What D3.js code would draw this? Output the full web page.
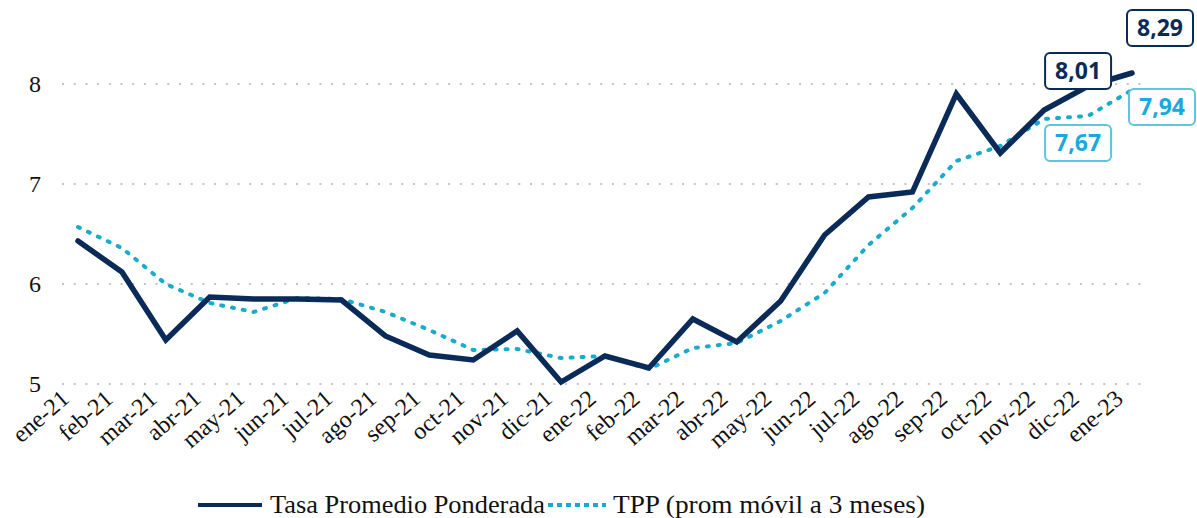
<!DOCTYPE html>
<html>
<head>
<meta charset="utf-8">
<script src="https://cdn.jsdelivr.net/npm/d3@7"></script>
<style>
  body { margin: 0; background: #fff; }
  svg { display: block; }
  .serif { font-family: "Liberation Serif", "Times New Roman", "DejaVu Serif", serif; }
</style>
</head>
<body>
<div id="chart"></div>
<script>
// months on the x axis
const months = ["ene-21", "feb-21", "mar-21", "abr-21", "may-21", "jun-21", "jul-21", "ago-21",
  "sep-21", "oct-21", "nov-21", "dic-21", "ene-22", "feb-22", "mar-22", "abr-22", "may-22",
  "jun-22", "jul-22", "ago-22", "sep-22", "oct-22", "nov-22", "dic-22", "ene-23"];

// Tasa Promedio Ponderada
const tpp = [6.43, 6.12, 5.44, 5.87, 5.85, 5.85, 5.84, 5.48, 5.29, 5.24, 5.53, 5.02, 5.28,
  5.16, 5.65, 5.42, 5.83, 6.49, 6.87, 6.92, 7.90, 7.31, 7.74, 7.98, 8.11];

// TPP (prom movil a 3 meses)
const tppMovil = [6.57, 6.36, 6.00, 5.81, 5.72, 5.86, 5.85, 5.72, 5.54, 5.34, 5.35, 5.26, 5.28,
  5.15, 5.36, 5.41, 5.63, 5.91, 6.39, 6.76, 7.23, 7.38, 7.65, 7.68, 7.94];

const yTicks = [5, 6, 7, 8];

// callout labels: month, text, series
const callouts = [
  {month: "dic-22", text: "8,01", serie: "tpp"},
  {month: "ene-23", text: "8,29", serie: "tpp"},
  {month: "dic-22", text: "7,67", serie: "movil"},
  {month: "ene-23", text: "7,94", serie: "movil"}
];

const W = 1197, H = 518;
const navy = "#0a2b58", cyan = "#19abcc";

const svg = d3.select("#chart").append("svg")
  .attr("width", W)
  .attr("height", H);

const x = d3.scalePoint()
  .domain(months)
  .range([78, 1132]);

const y = d3.scaleLinear()
  .domain([5, 8])
  .range([384, 84]);

// grid lines (dotted)
svg.append("g")
  .selectAll("line")
  .data(yTicks)
  .enter()
  .append("line")
  .attr("x1", 62)
  .attr("x2", 1142)
  .attr("y1", d => y(d))
  .attr("y2", d => y(d))
  .attr("stroke", "#c4c4c4")
  .attr("stroke-width", 2)
  .attr("stroke-dasharray", "2 9.7");

// y axis labels
let yAxis = svg.append("g")
  .attr("transform", "translate(41,0)")
  .call(d3.axisLeft(y).tickValues(yTicks).tickSize(0).tickPadding(0).tickFormat(d3.format("d")));
yAxis.select(".domain").remove();
yAxis.attr("font-family", null);
yAxis.selectAll("text")
  .attr("class", "serif")
  .attr("font-size", 24)
  .attr("fill", "#111");

// x axis labels
let xAxis = svg.append("g")
  .attr("transform", "translate(0,384)")
  .call(d3.axisBottom(x).tickSize(0).tickPadding(0));
xAxis.select(".domain").remove();
xAxis.attr("font-family", null);
xAxis.selectAll("text")
  .attr("class", "serif")
  .attr("font-size", 24)
  .attr("fill", "#111")
  .attr("text-anchor", "end")
  .attr("dy", "0")
  .attr("y", 0)
  .attr("transform", "translate(-8,17) rotate(-41)");

// lines
const line = d3.line()
  .x((d, i) => x(months[i]))
  .y(d => y(d));

svg.append("path")
  .datum(tppMovil)
  .attr("d", line)
  .attr("fill", "none")
  .attr("stroke", cyan)
  .attr("stroke-width", 4)
  .attr("stroke-linecap", "round")
  .attr("stroke-dasharray", "2 9");

svg.append("path")
  .datum(tpp)
  .attr("d", line)
  .attr("fill", "none")
  .attr("stroke", navy)
  .attr("stroke-width", 5.5)
  .attr("stroke-linejoin", "miter")
  .attr("stroke-linecap", "round");

// callouts
const boxOffset = {
  "tpp-dic-22": [-10, -15], "tpp-ene-23": [28, -45],
  "movil-dic-22": [-10, 27], "movil-ene-23": [30, 17]
};
const box = svg.append("g")
  .selectAll("g")
  .data(callouts)
  .enter()
  .append("g")
  .attr("transform", d => {
    let v = d.serie === "tpp" ? tpp[months.indexOf(d.month)] : tppMovil[months.indexOf(d.month)];
    let o = boxOffset[d.serie + "-" + d.month];
    return "translate(" + (x(d.month) + o[0]) + "," + (y(v) + o[1]) + ")";
  });

box.append("rect")
  .attr("x", -33)
  .attr("y", -18)
  .attr("width", 66)
  .attr("height", 36)
  .attr("rx", 5)
  .attr("fill", "#fff")
  .attr("stroke", d => d.serie === "tpp" ? navy : "#5ac6df")
  .attr("stroke-width", 2);

box.append("text")
  .attr("text-anchor", "middle")
  .attr("dy", "0.36em")
  .attr("font-family", "Open Sans, sans-serif")
  .attr("font-weight", "bold")
  .attr("font-size", 23)
  .attr("fill", d => d.serie === "tpp" ? navy : "#1aa8de")
  .text(d => d.text);

// legend
const legend = svg.append("g").attr("transform", "translate(0,505)");
legend.append("line")
  .attr("x1", 198).attr("x2", 262)
  .attr("stroke", navy).attr("stroke-width", 4);
legend.append("text")
  .attr("class", "serif")
  .attr("x", 270).attr("dy", "0.33em")
  .attr("font-size", 25).attr("fill", "#111")
  .attr("textLength", 275).attr("lengthAdjust", "spacingAndGlyphs")
  .text("Tasa Promedio Ponderada");
legend.append("line")
  .attr("x1", 548).attr("x2", 606)
  .attr("stroke", cyan).attr("stroke-width", 4)
  .attr("stroke-dasharray", "5 4");
legend.append("text")
  .attr("class", "serif")
  .attr("x", 613).attr("dy", "0.33em")
  .attr("font-size", 25).attr("fill", "#111")
  .attr("textLength", 312).attr("lengthAdjust", "spacingAndGlyphs")
  .text("TPP (prom móvil a 3 meses)");
</script>
</body>
</html>
